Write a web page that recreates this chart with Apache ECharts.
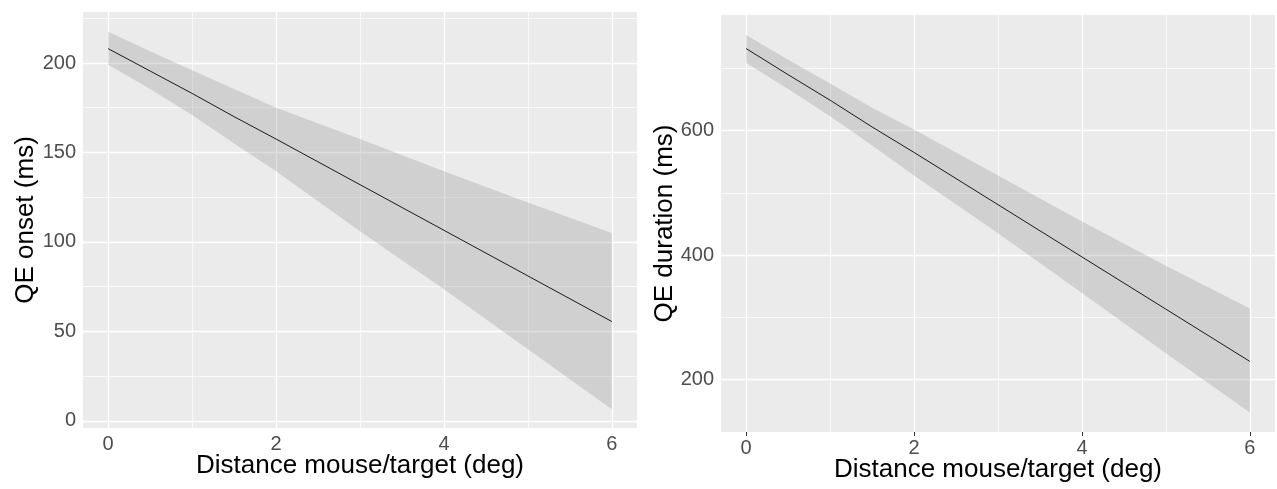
<!DOCTYPE html>
<html>
<head>
<meta charset="utf-8">
<script src="https://cdn.jsdelivr.net/npm/echarts@6/dist/echarts.min.js"></script>
<style>
  html, body { margin: 0; padding: 0; background: #fff; }
  #chart { width: 1277px; height: 489px; }
</style>
</head>
<body>
<div id="chart"></div>
<script>
const distX = [0, 0.5, 1, 1.5, 2, 3, 4, 5, 6];

// QE onset (ms)
const onsetFit   = [208, 195.5, 183, 170, 157.5, 132, 106.5, 81, 55.5];
const onsetUpper = [217.5, 206.5, 196, 185.5, 175, 157.5, 139.5, 122, 105];
const onsetLower = [199, 185.5, 171, 155, 139.5, 106, 73.5, 40, 6.5];

// QE duration (ms)
const durationFit   = [732, 690, 649, 606, 565, 481, 397, 313, 229];
const durationUpper = [754, 714, 676, 637, 602, 528, 454, 383, 314];
const durationLower = [709, 667, 623, 576, 528, 435, 339, 242, 147];

// ticks / grid lines
const xTicks = [0, 2, 4, 6];
const xMinor = [1, 3, 5];
const onsetTicks = [0, 50, 100, 150, 200];
const onsetMinor = [25, 75, 125, 175, 225];
const durationTicks = [200, 400, 600];
const durationMinor = [300, 500, 700];

const FONT = 'Liberation Sans, Arial, sans-serif';
const chart = echarts.init(document.getElementById('chart'));

function gridLines(yMajor, yMinor) {
  const major = { color: '#ffffff', width: 1.3, type: 'solid' };
  const minor = { color: '#ffffff', width: 0.7, type: 'solid' };
  return [].concat(
    xMinor.map(v => ({ xAxis: v, lineStyle: minor })),
    yMinor.map(v => ({ yAxis: v, lineStyle: minor })),
    xTicks.map(v => ({ xAxis: v, lineStyle: major })),
    yMajor.map(v => ({ yAxis: v, lineStyle: major }))
  );
}

// confidence band as one polygon (upper edge, then lower edge back)
function ribbon(idx, lower, upper) {
  return {
    type: 'custom',
    xAxisIndex: idx,
    yAxisIndex: idx,
    z: 10,
    silent: true,
    data: distX.map((x, i) => [x, lower[i], upper[i]]),
    encode: { x: 0, y: [1, 2] },
    renderItem: function (params, api) {
      if (params.dataIndex !== 0) return null;
      const pts = [];
      for (let i = 0; i < distX.length; i++) pts.push(api.coord([distX[i], upper[i]]));
      for (let i = distX.length - 1; i >= 0; i--) pts.push(api.coord([distX[i], lower[i]]));
      return {
        type: 'polygon',
        shape: { points: pts },
        style: { fill: 'rgba(153,153,153,0.32)', stroke: null }
      };
    }
  };
}

function fitLine(idx, fit, yMajor, yMinor) {
  return {
    type: 'line',
    xAxisIndex: idx,
    yAxisIndex: idx,
    z: 11,
    silent: true,
    showSymbol: false,
    data: distX.map((x, i) => [x, fit[i]]),
    lineStyle: { color: '#1a1a1a', width: 1 },
    markLine: {
      silent: true,
      z: 1,
      symbol: 'none',
      label: { show: false },
      emphasis: { disabled: true },
      animation: false,
      data: gridLines(yMajor, yMinor)
    }
  };
}

function xAxis(idx) {
  return {
    type: 'value',
    gridIndex: idx,
    min: -0.3,
    max: 6.3,
    name: 'Distance mouse/target (deg)',
    nameLocation: 'middle',
    nameGap: 25,
    nameMoveOverlap: false,
    nameTextStyle: { fontFamily: FONT, fontSize: 26, color: '#000' },
    axisLine: { show: false },
    axisTick: { show: true, length: 4, customValues: xTicks, lineStyle: { color: '#333', width: 1 } },
    axisLabel: { customValues: xTicks, margin: 6, fontFamily: FONT, fontSize: 20, color: '#4d4d4d' },
    splitLine: { show: false }
  };
}

function yAxis(idx, name, min, max, ticks, gap) {
  return {
    type: 'value',
    gridIndex: idx,
    min: min,
    max: max,
    name: name,
    nameLocation: 'middle',
    nameGap: gap,
    nameMoveOverlap: false,
    nameTextStyle: { fontFamily: FONT, fontSize: 26, color: '#000' },
    axisLine: { show: false },
    axisTick: { show: true, length: 4, customValues: ticks, lineStyle: { color: '#333', width: 1 } },
    axisLabel: { customValues: ticks, margin: 7, fontFamily: FONT, fontSize: 20, color: '#4d4d4d' },
    splitLine: { show: false }
  };
}

const option = {
  animation: false,
  grid: [
    { left: 83, right: 640, top: 12, bottom: 61, show: true, backgroundColor: '#ebebeb', borderWidth: 0, containLabel: false, outerBoundsMode: 'none' },
    { left: 721, right: 2, top: 15, bottom: 57, show: true, backgroundColor: '#ebebeb', borderWidth: 0, containLabel: false, outerBoundsMode: 'none' }
  ],
  xAxis: [xAxis(0), xAxis(1)],
  yAxis: [
    yAxis(0, 'QE onset (ms)', -4, 228.5, onsetTicks, 44),
    yAxis(1, 'QE duration (ms)', 115.5, 786, durationTicks, 43)
  ],
  series: [
    ribbon(0, onsetLower, onsetUpper),
    fitLine(0, onsetFit, onsetTicks, onsetMinor),
    ribbon(1, durationLower, durationUpper),
    fitLine(1, durationFit, durationTicks, durationMinor)
  ]
};

chart.setOption(option);
</script>
</body>
</html>
